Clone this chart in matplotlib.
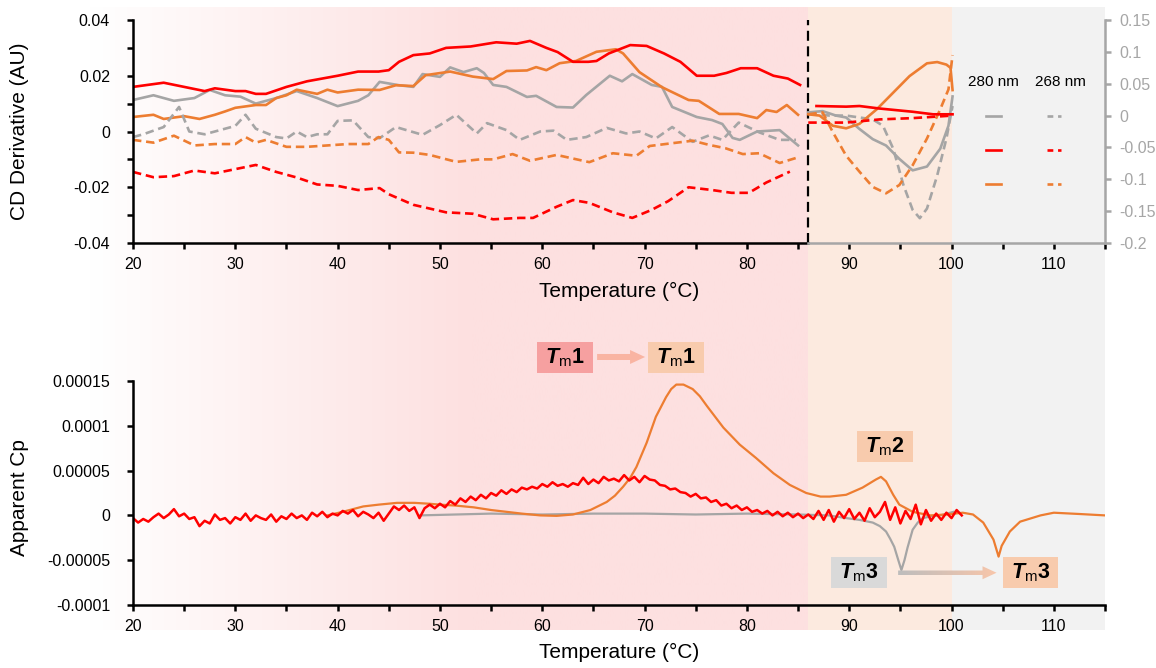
import numpy as np
import matplotlib
matplotlib.use('Agg')
import matplotlib.pyplot as plt
from matplotlib import patches
from matplotlib.colors import LinearSegmentedColormap

plt.rcParams['font.family'] = ['Liberation Sans', 'DejaVu Sans']
plt.rcParams['mathtext.fontset'] = 'custom'
plt.rcParams['mathtext.rm'] = 'Liberation Sans'
plt.rcParams['mathtext.it'] = 'Liberation Sans:italic'
plt.rcParams['mathtext.bf'] = 'Liberation Sans:bold'
plt.rcParams['mathtext.bfit'] = 'Liberation Sans:italic:bold'

RED = '#FF0000'
ORANGE = '#ED7D31'
GRAY = '#A5A5A5'

# ---- CD derivative, 20-86 C (left axis) ----
t_red280 = [20, 22, 23, 25, 27, 28, 30, 31, 32, 33, 35, 37, 40, 42, 44, 45, 46, 47.4, 49, 50.6,
            53, 55.5, 57.5, 58.8, 60.4, 61.5, 63, 64.5, 65.3, 66.5, 68.6, 70.2, 71.9, 73.5, 75.1,
            76.8, 78, 79.4, 81, 82.6, 84, 85.2]
v_red280 = [0.016, 0.017, 0.0175, 0.016, 0.0145, 0.0155, 0.0145, 0.0145, 0.0135, 0.0135, 0.016,
            0.018, 0.020, 0.0215, 0.0215, 0.022, 0.025, 0.0274, 0.028, 0.030, 0.0305, 0.032, 0.0315,
            0.0325, 0.030, 0.0285, 0.025, 0.025, 0.0253, 0.028, 0.031, 0.0307, 0.028, 0.025, 0.020,
            0.020, 0.021, 0.0227, 0.0227, 0.020, 0.019, 0.0167]

t_gray280 = [20, 22, 24, 26, 27.5, 29, 30.5, 32, 33, 34, 36, 38, 40, 42, 43, 44.1, 46, 47.4, 48.3, 50,
             51, 52.3, 53.6, 54.3, 55.2, 56.5, 58.5, 59.4, 61.4, 63, 64.3, 66.6, 67.8, 68.8, 70.7,
             71.7, 72.7, 75.1, 76.6, 77.6, 78.6, 79.3, 81, 83.2, 85]
v_gray280 = [0.0113, 0.013, 0.011, 0.012, 0.0149, 0.013, 0.0125, 0.010, 0.011, 0.012, 0.0145, 0.012,
             0.0091, 0.011, 0.013, 0.0178, 0.0166, 0.016, 0.0206, 0.0196, 0.023, 0.0213, 0.0227,
             0.021, 0.0167, 0.016, 0.0124, 0.0128, 0.0088, 0.0086, 0.0131, 0.020, 0.018, 0.0206,
             0.0167, 0.016, 0.0088, 0.0052, 0.0041, 0.0027, -0.0023, -0.003, 0.0, 0.0005, -0.005]

t_orange280 = [20, 22, 23, 25, 26.5, 28, 29, 30, 32, 33, 34, 35, 36, 38, 39, 40, 42, 44.1, 45.7, 47.4,
               48.6, 51, 53.2, 55.2, 56.5, 58.5, 59.4, 60.4, 61.7, 63.3, 65.3, 67.2, 67.9, 69.5,
               71.7, 74.3, 75.3, 77.3, 79.2, 81, 81.9, 82.9, 83.9, 85]
v_orange280 = [0.0052, 0.006, 0.0045, 0.0055, 0.0045, 0.006, 0.0072, 0.0085, 0.0095, 0.0095, 0.012,
               0.013, 0.015, 0.0135, 0.015, 0.014, 0.015, 0.0149, 0.0166, 0.0163, 0.0202, 0.0215,
               0.0197, 0.0188, 0.0217, 0.0219, 0.0231, 0.022, 0.0245, 0.0253, 0.0286, 0.0295, 0.028,
               0.0213, 0.0159, 0.0113, 0.011, 0.0063, 0.0063, 0.0048, 0.0077, 0.007, 0.0095, 0.006]

t_gray268 = [20, 21, 23, 24.5, 25.5, 27, 28.5, 30, 31, 32, 34, 35, 36, 37, 38, 39, 40, 41.5, 43, 44.1,
             45.7, 48.3, 50, 51.6, 53.6, 54.6, 56.5, 57.8, 59.8, 61.1, 62.4, 64.3, 66.3, 68.2, 69.5,
             71.1, 72.7, 74.7, 76.3, 77.6, 79.2, 81.2, 83.2, 84.8]
v_gray268 = [-0.002, -0.001, 0.0016, 0.0088, 0.0, -0.001, 0.0005, 0.002, 0.006, 0.001, -0.002,
             -0.0025, 0.0, -0.002, -0.001, -0.001, 0.0038, 0.004, -0.002, -0.0024, 0.0016, -0.0012,
             0.0023, 0.006, -0.0007, 0.003, 0.0005, -0.003, 0.0, 0.0003, -0.003, -0.002, 0.0013,
             -0.0007, 0.0, -0.0025, 0.0016, -0.0037, -0.0014, -0.003, 0.0032, -0.0003, -0.003, -0.003]

t_orange268 = [20, 22, 24, 26, 28, 30, 31, 32, 33, 35, 37, 39, 41, 43, 44, 45, 46, 47.4, 49, 51.6,
               53.9, 55.2, 57.1, 58.8, 61.4, 64.6, 66.9, 69.2, 70.5, 72.7, 74.7, 76.3, 77.9, 79.6,
               81.2, 83.2, 84.8]
v_orange268 = [-0.003, -0.004, -0.0015, -0.005, -0.0045, -0.0045, -0.002, -0.004, -0.003, -0.0055,
               -0.0055, -0.005, -0.0045, -0.0045, -0.002, -0.003, -0.0075, -0.0076, -0.0084, -0.0109,
               -0.010, -0.010, -0.0081, -0.0105, -0.0084, -0.011, -0.0078, -0.0087, -0.0052, -0.0042,
               -0.0033, -0.0048, -0.006, -0.0081, -0.0078, -0.0113, -0.0095]

t_red268 = [20, 22, 24, 26, 28, 30, 32, 34, 36, 38, 40, 42, 44.1, 45, 47.4, 50.6, 53.2, 55.2, 57.8,
            59.1, 61.4, 63, 64.6, 66.9, 68.8, 70.7, 72.3, 74.3, 76.6, 78.5, 80.2, 81.9, 84.2]
v_red268 = [-0.0145, -0.0164, -0.016, -0.014, -0.015, -0.0135, -0.012, -0.0145, -0.0165, -0.019,
            -0.0195, -0.021, -0.0203, -0.0225, -0.0263, -0.029, -0.0295, -0.0315, -0.031, -0.031,
            -0.027, -0.0246, -0.0256, -0.029, -0.031, -0.0281, -0.025, -0.020, -0.021, -0.022,
            -0.022, -0.0183, -0.0144]

# ---- CD derivative, 86-100 C (right axis) ----
th_orange280 = [86, 87.1, 88.4, 89.7, 91, 92.7, 94.3, 95.9, 97.6, 98.6, 99.5, 99.9, 100.1]
vh_orange280 = [0.002, 0.0, -0.016, -0.02, -0.013, 0.01, 0.036, 0.062, 0.082, 0.084, 0.08, 0.075, 0.04]
th_orange268 = [86, 87.4, 88.4, 89.7, 91, 92.3, 93.6, 94.9, 96.2, 97.6, 98.9, 99.7, 100.1]
vh_orange268 = [0.002, 0.005, -0.026, -0.063, -0.088, -0.112, -0.122, -0.109, -0.078, -0.036, 0.01,
                0.041, 0.095]
th_gray280 = [86, 87.4, 88.7, 89.7, 91, 92.3, 93.6, 94.9, 96.2, 97.6, 98.9, 99.7, 100.1]
vh_gray280 = [0.005, 0.007, 0.0, -0.003, -0.021, -0.037, -0.047, -0.068, -0.086, -0.080, -0.052,
              -0.016, 0.03]
th_gray268 = [86, 88.1, 89.7, 92.3, 93.3, 94.3, 95.3, 96.2, 96.9, 97.6, 98.6, 99.5, 100.1]
vh_gray268 = [0.003, 0.0, 0.0, -0.006, -0.016, -0.052, -0.109, -0.148, -0.161, -0.146, -0.094,
              -0.036, 0.015]
th_red280 = [86.8, 89.7, 91, 93, 96.2, 98.2, 100.1]
vh_red280 = [0.015, 0.014, 0.015, 0.011, 0.006, 0.002, 0.002]
th_red268 = [86, 89.7, 93, 96.2, 100.1]
vh_red268 = [-0.011, -0.011, -0.006, -0.004, 0.0]

# ---- DSC apparent Cp (units of 1e-5) ----
t_dsc_red = np.arange(20, 101.01, 0.5)
cp_red = [-0.3, -0.8, -0.4, -0.7, -0.2, 0.2, -0.3, 0.1, 0.7, -0.1,
          0.2, -0.4, -0.2, -1.2, -0.6, -0.9, 0.1, -0.5, -0.3, -0.9,
          -0.2, -0.5, 0.2, -0.6, 0.0, -0.3, -0.5, 0.1, -0.7, -0.1,
          -0.4, 0.2, -0.3, 0.0, -0.5, 0.3, -0.1, 0.4, -0.2, 0.2,
          0.0, 0.5, 0.2, 0.6, -0.1, 0.4, 0.1, -0.3, 0.3, -0.6,
          0.2, 1.0, 0.6, 1.1, 0.5, 0.9, -0.3, 0.8, 1.2, 0.8,
          1.3, 0.9, 1.6, 1.2, 1.9, 1.5, 2.1, 1.7, 2.3, 1.9,
          2.5, 2.2, 2.8, 2.4, 2.9, 2.6, 3.1, 2.9, 3.2, 3.0,
          3.5, 3.2, 3.7, 3.3, 3.5, 3.2, 3.6, 3.4, 4.2, 3.5,
          4.0, 3.6, 4.3, 3.9, 4.1, 3.8, 4.5, 3.9, 4.3, 3.7,
          4.4, 4.0, 3.9, 3.4, 3.3, 2.9, 3.0, 2.6, 2.5, 2.1,
          2.4, 1.9, 2.0, 1.5, 1.7, 1.1, 1.3, 0.8, 1.1, 0.6,
          0.9, 0.4, 0.6, 0.2, 0.5, 0.0, 0.4, -0.1, 0.3, -0.2,
          0.2, -0.3, 0.1, -0.4, 0.5, -0.5, 0.6, -0.7, 0.4, -0.3,
          0.7, -0.4, 0.3, -0.6, 0.8, -0.2, 0.4, 1.5, -0.5, 0.9,
          -0.9, 0.5, -0.4, 1.2, -1.0, 0.6, -0.6, 0.2, -0.5, 0.3,
          -0.3, 0.6, 0.0]

t_dsc_gray = [48, 55, 60, 65, 70, 75, 80, 85, 88, 89.7, 91, 92.3, 93, 93.6, 94.0, 94.4, 94.8, 95.1,
              95.4, 95.7, 96.2, 96.7, 97.2, 98, 98.9, 100.2]
cp_gray = [0, 0.2, 0.1, 0.2, 0.2, 0.1, 0.2, 0.1, 0.0, -0.3, -0.5, -0.8, -1.2, -1.8, -2.6, -3.5, -5.0,
           -6.1, -5.0, -3.6, -1.6, -0.8, -0.3, -0.1, 0.0, 0.4]

t_dsc_orange = [39, 40.5, 42.5, 44, 45.8, 47.5, 49, 50, 51.5, 53.3, 55, 56.5, 58, 59.8, 61.4, 63,
                64.7, 66.3, 67.1, 67.9, 68.6, 69.2, 70.2, 71.1, 72.1, 72.6, 73.1, 73.8, 74.7, 75.4,
                76.1, 77.7, 79.3, 80.9, 82.6, 84.2, 85.8, 87.2, 88.1, 89.7, 91.3, 92.6, 93.1, 93.6,
                94.3, 94.9, 96.2, 97.9, 99.5, 101.1, 102.1, 103.1, 104.1, 104.6, 104.9, 105.7,
                106.7, 108.7, 110, 112.6, 115]
cp_orange = [0.0, 0.4, 1.0, 1.2, 1.4, 1.4, 1.3, 1.2, 1.1, 0.9, 0.6, 0.4, 0.2, 0.0, -0.05, 0.1, 0.6,
             1.5, 2.2, 3.2, 4.2, 5.4, 8.1, 11.0, 13.2, 14.1, 14.6, 14.6, 14.1, 13.3, 12.2, 9.8, 7.9,
             6.4, 4.7, 3.4, 2.5, 2.1, 2.1, 2.3, 3.1, 4.0, 4.3, 3.8, 2.3, 1.2, 0.4, 0.0, 0.1, 0.3,
             0.1, -0.8, -2.7, -4.6, -3.4, -1.8, -0.7, 0.0, 0.3, 0.15, 0.0]

# ticks
x_major = [20, 30, 40, 50, 60, 70, 80, 90, 100, 110]
x_minor = [25, 35, 45, 55, 65, 75, 85, 95, 105, 115]
cd_ticks = [-0.04, -0.02, 0, 0.02, 0.04]
cd_labels = ['-0.04', '-0.02', '0', '0.02', '0.04']
cd_minor = [-0.03, -0.01, 0.01, 0.03]
cd2_ticks = [-0.2, -0.15, -0.1, -0.05, 0, 0.05, 0.1, 0.15]
cd2_labels = ['-0.2', '-0.15', '-0.1', '-0.05', '0', '0.05', '0.1', '0.15']
cp_ticks = [-0.0001, -0.00005, 0, 0.00005, 0.0001, 0.00015]
cp_labels = ['-0.0001', '-0.00005', '0', '0.00005', '0.0001', '0.00015']

TM = r'$\mathbfit{T}_{\mathregular{m}}\mathbf{%s}$'

# figure -------------------------------------------------------------
W, H = 1156, 668
fig = plt.figure(figsize=(W / 100, H / 100), dpi=100, facecolor='white')

ax_l, ax_w = 133 / W, 972 / W
ax1 = fig.add_axes([ax_l, 1 - 243 / H, ax_w, 223 / H])
ax3 = fig.add_axes([ax_l, 1 - 605 / H, ax_w, 224 / H])

# background bands (in pixel space)
def px(t):
    return 133 + (t - 20) * 972 / 95

bg = fig.add_axes([0, 0, 1, 1], zorder=-10)
bg.set_xlim(0, W)
bg.set_ylim(H, 0)
bg.axis('off')
pink = np.array([253, 224, 224]) / 255
xs = np.linspace(0, px(86), 500)
f = np.clip((xs - 90) / (470 - 90), 0, 1)[:, None]
img = (1 - f) * np.ones(3) + f * pink
bg.imshow(img[None, :, :], extent=[0, px(86), 630, 7], aspect='auto', interpolation='bilinear')
bg.add_patch(patches.Rectangle((px(86), 7), px(100) - px(86), 623, color='#FCEADF', lw=0))
bg.add_patch(patches.Rectangle((px(100), 7), px(115) - px(100), 623, color='#F2F2F2', lw=0))
bg.set_xlim(0, W)
bg.set_ylim(H, 0)

SPW = 1.8

# top panel ----------------------------------------------------------
ax1.set_facecolor('none')
lw = 1.9
dash = (0, (3.2, 1.8))
ax1.plot(t_gray280, v_gray280, color=GRAY, lw=lw)
ax1.plot(t_orange280, v_orange280, color=ORANGE, lw=lw)
ax1.plot(t_red280, v_red280, color=RED, lw=lw)
ax1.plot(t_gray268, v_gray268, color=GRAY, lw=lw, ls=dash)
ax1.plot(t_orange268, v_orange268, color=ORANGE, lw=lw, ls=dash)
ax1.plot(t_red268, v_red268, color=RED, lw=lw, ls=dash)
ax1.axvline(86, color='black', lw=1.6, ls=(0, (4.5, 2.5)))

ax1.set_xlim(20, 115)
ax1.set_ylim(-0.04, 0.04)
ax1.set_xticks(x_major)
ax1.set_xticks(x_minor, minor=True)
ax1.set_yticks(cd_ticks)
ax1.set_yticklabels(cd_labels)
ax1.set_yticks(cd_minor, minor=True)
ax1.spines['top'].set_visible(False)
ax1.spines['right'].set_visible(False)
ax1.spines['left'].set_linewidth(SPW)
ax1.spines['bottom'].set_linewidth(SPW)
ax1.spines['bottom'].set_bounds(20, 86)
ax1.tick_params(axis='y', which='both', direction='out', length=4.5, width=SPW, labelsize=11.5, pad=12)
ax1.tick_params(axis='x', which='both', direction='out', length=4, width=SPW, labelsize=11.5, pad=6)
ax1.set_ylabel('CD Derivative (AU)', fontsize=15)
ax1.yaxis.set_label_coords(-0.107, 0.5)
ax1.set_xlabel('Temperature (\u00b0C)', fontsize=15)
ax1.xaxis.set_label_coords(0.5, -0.175)

ax2 = ax1.twinx()
ax2.set_facecolor('none')
ax2.plot(th_gray280, vh_gray280, color=GRAY, lw=lw)
ax2.plot(th_gray268, vh_gray268, color=GRAY, lw=lw, ls=dash)
ax2.plot(th_orange280, vh_orange280, color=ORANGE, lw=lw)
ax2.plot(th_orange268, vh_orange268, color=ORANGE, lw=lw, ls=dash)
ax2.plot(th_red280, vh_red280, color=RED, lw=lw)
ax2.plot(th_red268, vh_red268, color=RED, lw=lw, ls=dash)
ax2.set_ylim(-0.2, 0.15)
ax2.set_xlim(20, 115)
ax2.set_yticks(cd2_ticks)
ax2.set_yticklabels(cd2_labels)
for s in ['top', 'left']:
    ax2.spines[s].set_visible(False)
ax2.spines['right'].set_color('#A6A6A6')
ax2.spines['right'].set_linewidth(SPW)
ax2.spines['bottom'].set_visible(True)
ax2.spines['bottom'].set_color('#A6A6A6')
ax2.spines['bottom'].set_linewidth(SPW)
ax2.spines['bottom'].set_bounds(86, 115)
ax2.tick_params(axis='y', direction='out', length=4.5, width=SPW, colors='#A6A6A6',
                labelsize=11.5, pad=6)

# legend keys
ax1.text(0.885, 0.722, '280 nm', transform=ax1.transAxes, ha='center', va='center', fontsize=11)
ax1.text(0.954, 0.722, '268 nm', transform=ax1.transAxes, ha='center', va='center', fontsize=11)
for yk, c in zip([0.570, 0.417, 0.265], [GRAY, RED, ORANGE]):
    ax1.plot([0.8776, 0.893], [yk, yk], color=c, lw=lw, transform=ax1.transAxes, clip_on=False)
    ax1.plot([0.940, 0.955], [yk, yk], color=c, lw=lw, ls=(0, (2.2, 1.8)),
             transform=ax1.transAxes, clip_on=False)

# bottom panel -------------------------------------------------------
ax3.set_facecolor('none')
sc = 1e-5
ax3.plot(t_dsc_gray, np.array(cp_gray) * sc, color=GRAY, lw=1.6)
ax3.plot(t_dsc_orange, np.array(cp_orange) * sc, color=ORANGE, lw=1.6)
ax3.plot(t_dsc_red, np.array(cp_red) * sc, color=RED, lw=1.8)

ax3.set_xlim(20, 115)
ax3.set_ylim(-0.0001, 0.00015)
ax3.set_xticks(x_major)
ax3.set_xticks(x_minor, minor=True)
ax3.set_yticks(cp_ticks)
ax3.set_yticklabels(cp_labels)
ax3.spines['top'].set_visible(False)
ax3.spines['right'].set_visible(False)
ax3.spines['left'].set_linewidth(SPW)
ax3.spines['bottom'].set_linewidth(SPW)
ax3.tick_params(axis='y', which='both', direction='out', length=4.5, width=SPW, labelsize=11.5, pad=12)
ax3.tick_params(axis='x', which='both', direction='out', length=4, width=SPW, labelsize=11.5, pad=6)
ax3.set_ylabel('Apparent Cp', fontsize=15)
ax3.yaxis.set_label_coords(-0.107, 0.48)
ax3.set_xlabel('Temperature (\u00b0C)', fontsize=15)
ax3.xaxis.set_label_coords(0.5, -0.17)

# Tm annotation boxes: (x0, x1, y0, y1, colour, number)
boxes = [(59.5, 65.0, 15.9, 19.35, '#F6A0A0', '1'),
         (70.34, 75.82, 15.9, 19.35, '#F8CBAD', '1'),
         (90.77, 96.25, 5.96, 9.43, '#F8CBAD', '2'),
         (88.23, 93.71, -8.1, -4.64, '#D9D9D9', '3'),
         (105.04, 110.42, -8.1, -4.64, '#F8CBAD', '3')]
for x0, x1, y0, y1, c, n in boxes:
    ax3.add_patch(patches.Rectangle((x0, y0 * sc), x1 - x0, (y1 - y0) * sc, color=c, lw=0,
                                    clip_on=False, zorder=4))
    ax3.text((x0 + x1) / 2, (y0 + y1) / 2 * sc, TM % n, ha='center', va='center', fontsize=15.5,
             zorder=5, clip_on=False)

a1 = patches.FancyArrow(65.36, 17.68 * sc, 70.05 - 65.36, 0, width=0.67 * sc, head_width=1.56 * sc,
                        head_length=1.47, length_includes_head=True, color='#F9B4A2', lw=0,
                        clip_on=False, zorder=4)
ax3.add_patch(a1)

a3 = patches.FancyArrow(94.78, -6.4 * sc, 104.4 - 94.78, 0, width=0.5 * sc, head_width=1.45 * sc,
                        head_length=1.37, length_includes_head=True, facecolor='none', lw=0,
                        clip_on=False, zorder=4)
ax3.add_patch(a3)
cmap = LinearSegmentedColormap.from_list('g', ['#BDBDBD', '#F8C6AA'])
grad = np.linspace(0, 1, 256).reshape(1, -1)
im = ax3.imshow(grad, extent=[94.78, 104.4, -7.3 * sc, -5.5 * sc], aspect='auto', cmap=cmap,
                origin='lower', zorder=4)
im.set_clip_path(a3)
ax3.set_xlim(20, 115)
ax3.set_ylim(-0.0001, 0.00015)

fig.savefig('out.png', dpi=100, facecolor='white')
